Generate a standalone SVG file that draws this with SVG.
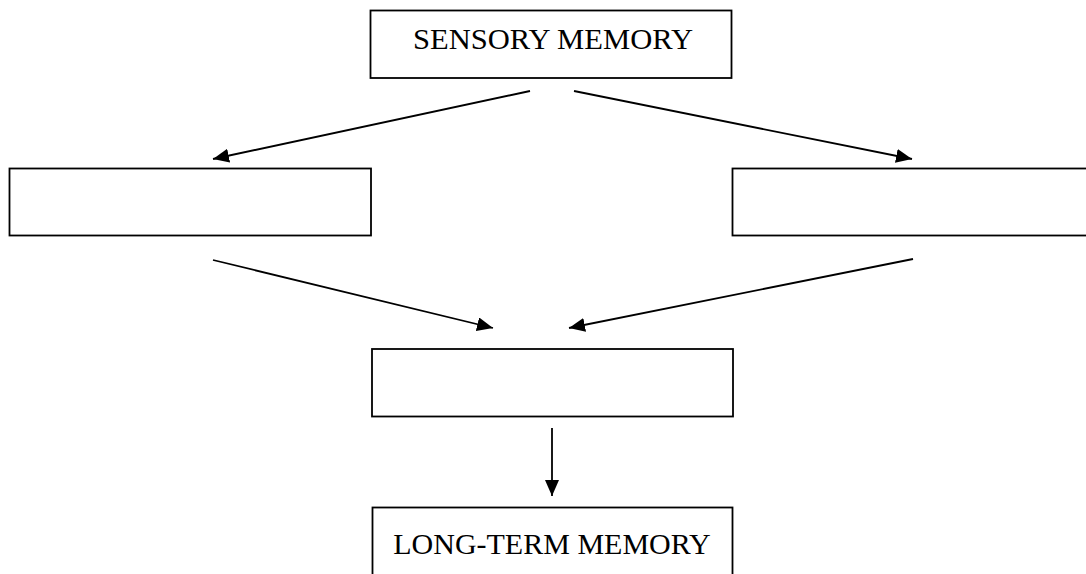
<svg xmlns="http://www.w3.org/2000/svg" width="1086" height="574" viewBox="0 0 1086 574">
<style>
.box{fill:#fff;stroke:#000;stroke-width:1.8}
.lbl{font-family:"Liberation Serif","Times New Roman",serif;font-size:30px;fill:#000;text-anchor:middle}
.conn{stroke:#000;stroke-width:1.8;fill:none;marker-end:url(#ah)}
</style>
<defs>
<marker id="ah" markerUnits="userSpaceOnUse" markerWidth="16" markerHeight="14" viewBox="0 0 16 14" refX="16" refY="7" orient="auto">
<path d="M0,0 L16,7 L0,14 Z" fill="#000"/>
</marker>
</defs>
<rect width="1086" height="574" fill="#fff"/>
<g id="sensory">
<rect class="box" x="370.5" y="10.5" width="361" height="67.5"/>
<text class="lbl" x="553" y="49" textLength="280" lengthAdjust="spacingAndGlyphs">SENSORY MEMORY</text>
</g>
<g id="left-box">
<rect class="box" x="9.5" y="168.5" width="361.5" height="67"/>
</g>
<g id="right-box">
<rect class="box" x="732.5" y="168.5" width="370" height="67"/>
</g>
<g id="center-box">
<rect class="box" x="372" y="349" width="361" height="67.5"/>
</g>
<g id="longterm">
<rect class="box" x="372.5" y="507.5" width="360" height="80"/>
<text class="lbl" x="552" y="554">LONG-TERM MEMORY</text>
</g>
<g id="connectors">
<line class="conn" x1="530" y1="91" x2="213" y2="159"/>
<line class="conn" x1="574" y1="91" x2="912" y2="159"/>
<line class="conn" x1="213" y1="260" x2="493" y2="328"/>
<line class="conn" x1="913" y1="259" x2="569" y2="328"/>
<line class="conn" x1="552" y1="428" x2="552" y2="496"/>
</g>
</svg>
